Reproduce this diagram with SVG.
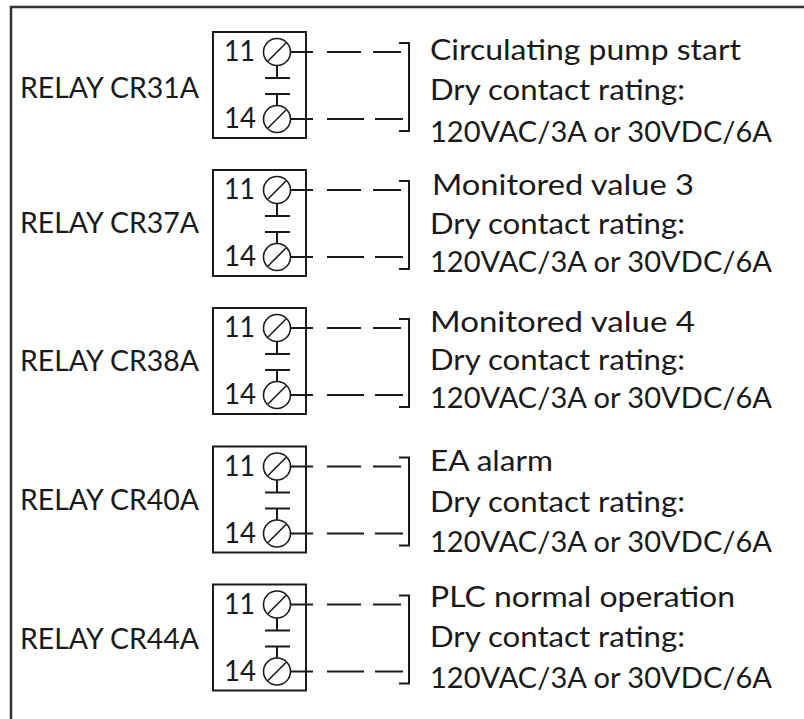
<svg xmlns="http://www.w3.org/2000/svg" xmlns:xlink="http://www.w3.org/1999/xlink" width="804" height="719" viewBox="0 0 804 719">
<style>
text{font-family:"Lato","Carlito","Liberation Sans",sans-serif;font-size:28px;fill:#1a1a1a}
.l{fill:none;stroke:#1a1a1a;stroke-width:2}
.c{fill:none;stroke:#1a1a1a;stroke-width:1.600}
.f{fill:none;stroke:#333;stroke-width:2.5}
</style>
<defs>
<g id="sym">
<rect class="l" x="213" y="32" width="93" height="106"/>
<circle class="c" cx="277" cy="52" r="13.5"/>
<line class="c" x1="268" y1="61" x2="286" y2="43"/>
<circle class="c" cx="277" cy="119" r="13.5"/>
<line class="c" x1="268" y1="128" x2="286" y2="110"/>
<path class="l" d="M277 65.500V78M265 78H290M265 94H290M277 94V105.500"/>
<text x="224" y="61" textLength="31" lengthAdjust="spacingAndGlyphs">11</text>
<text x="224" y="128" textLength="32" lengthAdjust="spacingAndGlyphs">14</text>
</g>
<g id="wire">
<path class="l" d="M290 52H313M327 52H361M373 52H401M399 43H409V131H399M290 119H313M327 119H364M375 119H403"/>
</g>
</defs>
<rect id="frame" class="f" x="11" y="7" width="810" height="730"/>
<g id="connectors">
<use xlink:href="#wire" href="#wire"/>
<use xlink:href="#wire" href="#wire" y="138"/>
<use xlink:href="#wire" href="#wire" y="276"/>
<use xlink:href="#wire" href="#wire" y="414.500"/>
<use xlink:href="#wire" href="#wire" y="552.500"/>
</g>
<g id="relay-cr31a">
<use xlink:href="#sym" href="#sym"/>
<text x="20" y="98" textLength="179" lengthAdjust="spacingAndGlyphs">RELAY CR31A</text>
<text x="430" y="60" textLength="311" lengthAdjust="spacingAndGlyphs">Circulating pump start</text>
<text x="430" y="100" textLength="255" lengthAdjust="spacingAndGlyphs">Dry contact rating:</text>
<text x="430" y="142" textLength="342" lengthAdjust="spacingAndGlyphs">120VAC/3A or 30VDC/6A</text>
</g>
<g id="relay-cr37a">
<use xlink:href="#sym" href="#sym" y="138"/>
<text x="20" y="233" textLength="179" lengthAdjust="spacingAndGlyphs">RELAY CR37A</text>
<text x="432" y="195" textLength="262" lengthAdjust="spacingAndGlyphs">Monitored value 3</text>
<text x="430" y="234" textLength="255" lengthAdjust="spacingAndGlyphs">Dry contact rating:</text>
<text x="430" y="272" textLength="342" lengthAdjust="spacingAndGlyphs">120VAC/3A or 30VDC/6A</text>
</g>
<g id="relay-cr38a">
<use xlink:href="#sym" href="#sym" y="276"/>
<text x="20" y="371" textLength="179" lengthAdjust="spacingAndGlyphs">RELAY CR38A</text>
<text x="430" y="332" textLength="265" lengthAdjust="spacingAndGlyphs">Monitored value 4</text>
<text x="430" y="370" textLength="255" lengthAdjust="spacingAndGlyphs">Dry contact rating:</text>
<text x="430" y="408" textLength="342" lengthAdjust="spacingAndGlyphs">120VAC/3A or 30VDC/6A</text>
</g>
<g id="relay-cr40a">
<use xlink:href="#sym" href="#sym" y="414.500"/>
<text x="20" y="510" textLength="179" lengthAdjust="spacingAndGlyphs">RELAY CR40A</text>
<text x="430" y="471" textLength="123" lengthAdjust="spacingAndGlyphs">EA alarm</text>
<text x="430" y="512" textLength="255" lengthAdjust="spacingAndGlyphs">Dry contact rating:</text>
<text x="430" y="552" textLength="342" lengthAdjust="spacingAndGlyphs">120VAC/3A or 30VDC/6A</text>
</g>
<g id="relay-cr44a">
<use xlink:href="#sym" href="#sym" y="552.500"/>
<text x="20" y="649" textLength="179" lengthAdjust="spacingAndGlyphs">RELAY CR44A</text>
<text x="430" y="607" textLength="305" lengthAdjust="spacingAndGlyphs">PLC normal operation</text>
<text x="430" y="647" textLength="255" lengthAdjust="spacingAndGlyphs">Dry contact rating:</text>
<text x="430" y="688" textLength="342" lengthAdjust="spacingAndGlyphs">120VAC/3A or 30VDC/6A</text>
</g>
</svg>
